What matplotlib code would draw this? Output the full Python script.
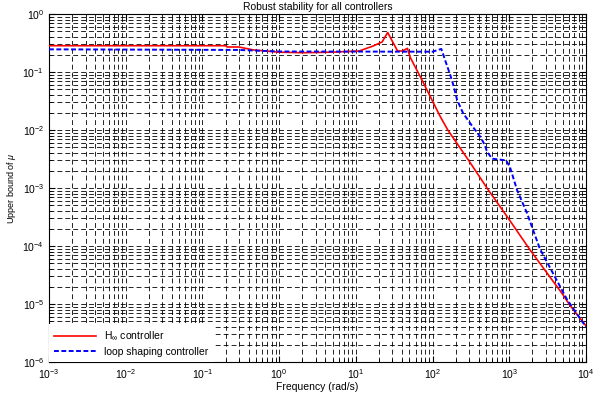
import numpy as np
import matplotlib
matplotlib.use('Agg')
import matplotlib.pyplot as plt
from matplotlib.ticker import LogLocator, NullFormatter

plt.rcParams['font.family'] = ['Liberation Sans', 'DejaVu Sans']
plt.rcParams['mathtext.fontset'] = 'custom'
plt.rcParams['mathtext.rm'] = 'Liberation Sans'
plt.rcParams['mathtext.it'] = 'Liberation Sans:italic'
plt.rcParams['lines.scale_dashes'] = False

# H-infinity controller (red)
w_hinf = [1e-3, 0.2, 0.21, 0.3, 0.46, 1.0, 2.0, 5.0, 11, 16.7, 22, 26, 35, 40, 47,
          51, 76, 126, 158, 300, 525, 1000, 1870, 5000, 6170, 1e4]
mu_hinf = [0.284, 0.284, 0.27, 0.27, 0.24, 0.22, 0.215, 0.22, 0.23, 0.28, 0.33, 0.48,
           0.23, 0.23, 0.256, 0.18, 0.065, 0.017, 0.01, 2.9e-3, 9.5e-4, 2.84e-4,
           8.5e-5, 1.45e-5, 9.5e-6, 4.2e-6]

# loop shaping controller (blue)
w_ls = [1e-3, 0.3, 1, 100, 130, 150, 170, 186, 209, 250, 324, 420, 480, 513, 600,
        910, 1020, 1260, 1700, 2500, 5650, 1e4]
mu_ls = [0.246, 0.24, 0.226, 0.224, 0.25, 0.143, 0.089, 0.06, 0.033, 0.0195, 0.012,
         7.6e-3, 5.5e-3, 4.2e-3, 3.2e-3, 3.0e-3, 2.3e-3, 9.3e-4, 3.7e-4, 9.0e-5,
         1.2e-5, 4.0e-6]

xticks = [1e-3, 1e-2, 1e-1, 1e0, 1e1, 1e2, 1e3, 1e4]
yticks = [1e-6, 1e-5, 1e-4, 1e-3, 1e-2, 1e-1, 1e0]

fig = plt.figure(figsize=(5.99, 3.96), dpi=100)
ax = fig.add_axes([0.0818, 0.0859, 0.8965, 0.8787])

ax.loglog(w_hinf, mu_hinf, 'r-', lw=1.2, label=r'H$_\infty$ controller', zorder=3)
ax.loglog(w_ls, mu_ls, color='b', ls=(0, (3.5, 1.8)), lw=1.4, label='loop shaping controller', zorder=3)

ax.set_xlim(1e-3, 1e4)
ax.set_ylim(1e-6, 1e0)
ax.set_xticks(xticks)
ax.set_yticks(yticks)
ax.xaxis.set_minor_locator(LogLocator(base=10, subs=np.arange(2, 10), numticks=100))
ax.yaxis.set_minor_locator(LogLocator(base=10, subs=np.arange(2, 10), numticks=100))
ax.xaxis.set_minor_formatter(NullFormatter())
ax.yaxis.set_minor_formatter(NullFormatter())

gstyle = dict(color='k', lw=0.6, ls=(0, (3.5, 2.2)))
ax.grid(True, which='major', **gstyle)
ax.grid(True, which='minor', **gstyle)
ax.set_axisbelow(True)

ax.tick_params(which='both', direction='in', top=True, right=True, labelsize=7.5)
ax.tick_params(which='minor', labelbottom=False, labelleft=False)
ax.tick_params(which='major', length=4)
ax.tick_params(which='minor', length=2)
for s in ax.spines.values():
    s.set_linewidth(0.8)

ax.set_title('Robust stability for all controllers', fontsize=7.5, pad=3)
ax.set_xlabel('Frequency (rad/s)', fontsize=7.5, labelpad=1)
ax.set_ylabel(r'Upper bound of $\mu$', fontsize=6.5, labelpad=3)

leg = ax.legend(loc='lower left', borderaxespad=0, fontsize=7.5, fancybox=False,
                framealpha=1, edgecolor='none', handlelength=4, borderpad=0.5,
                labelspacing=0.4)

plt.savefig('out.png', dpi=100)
plt.close()
